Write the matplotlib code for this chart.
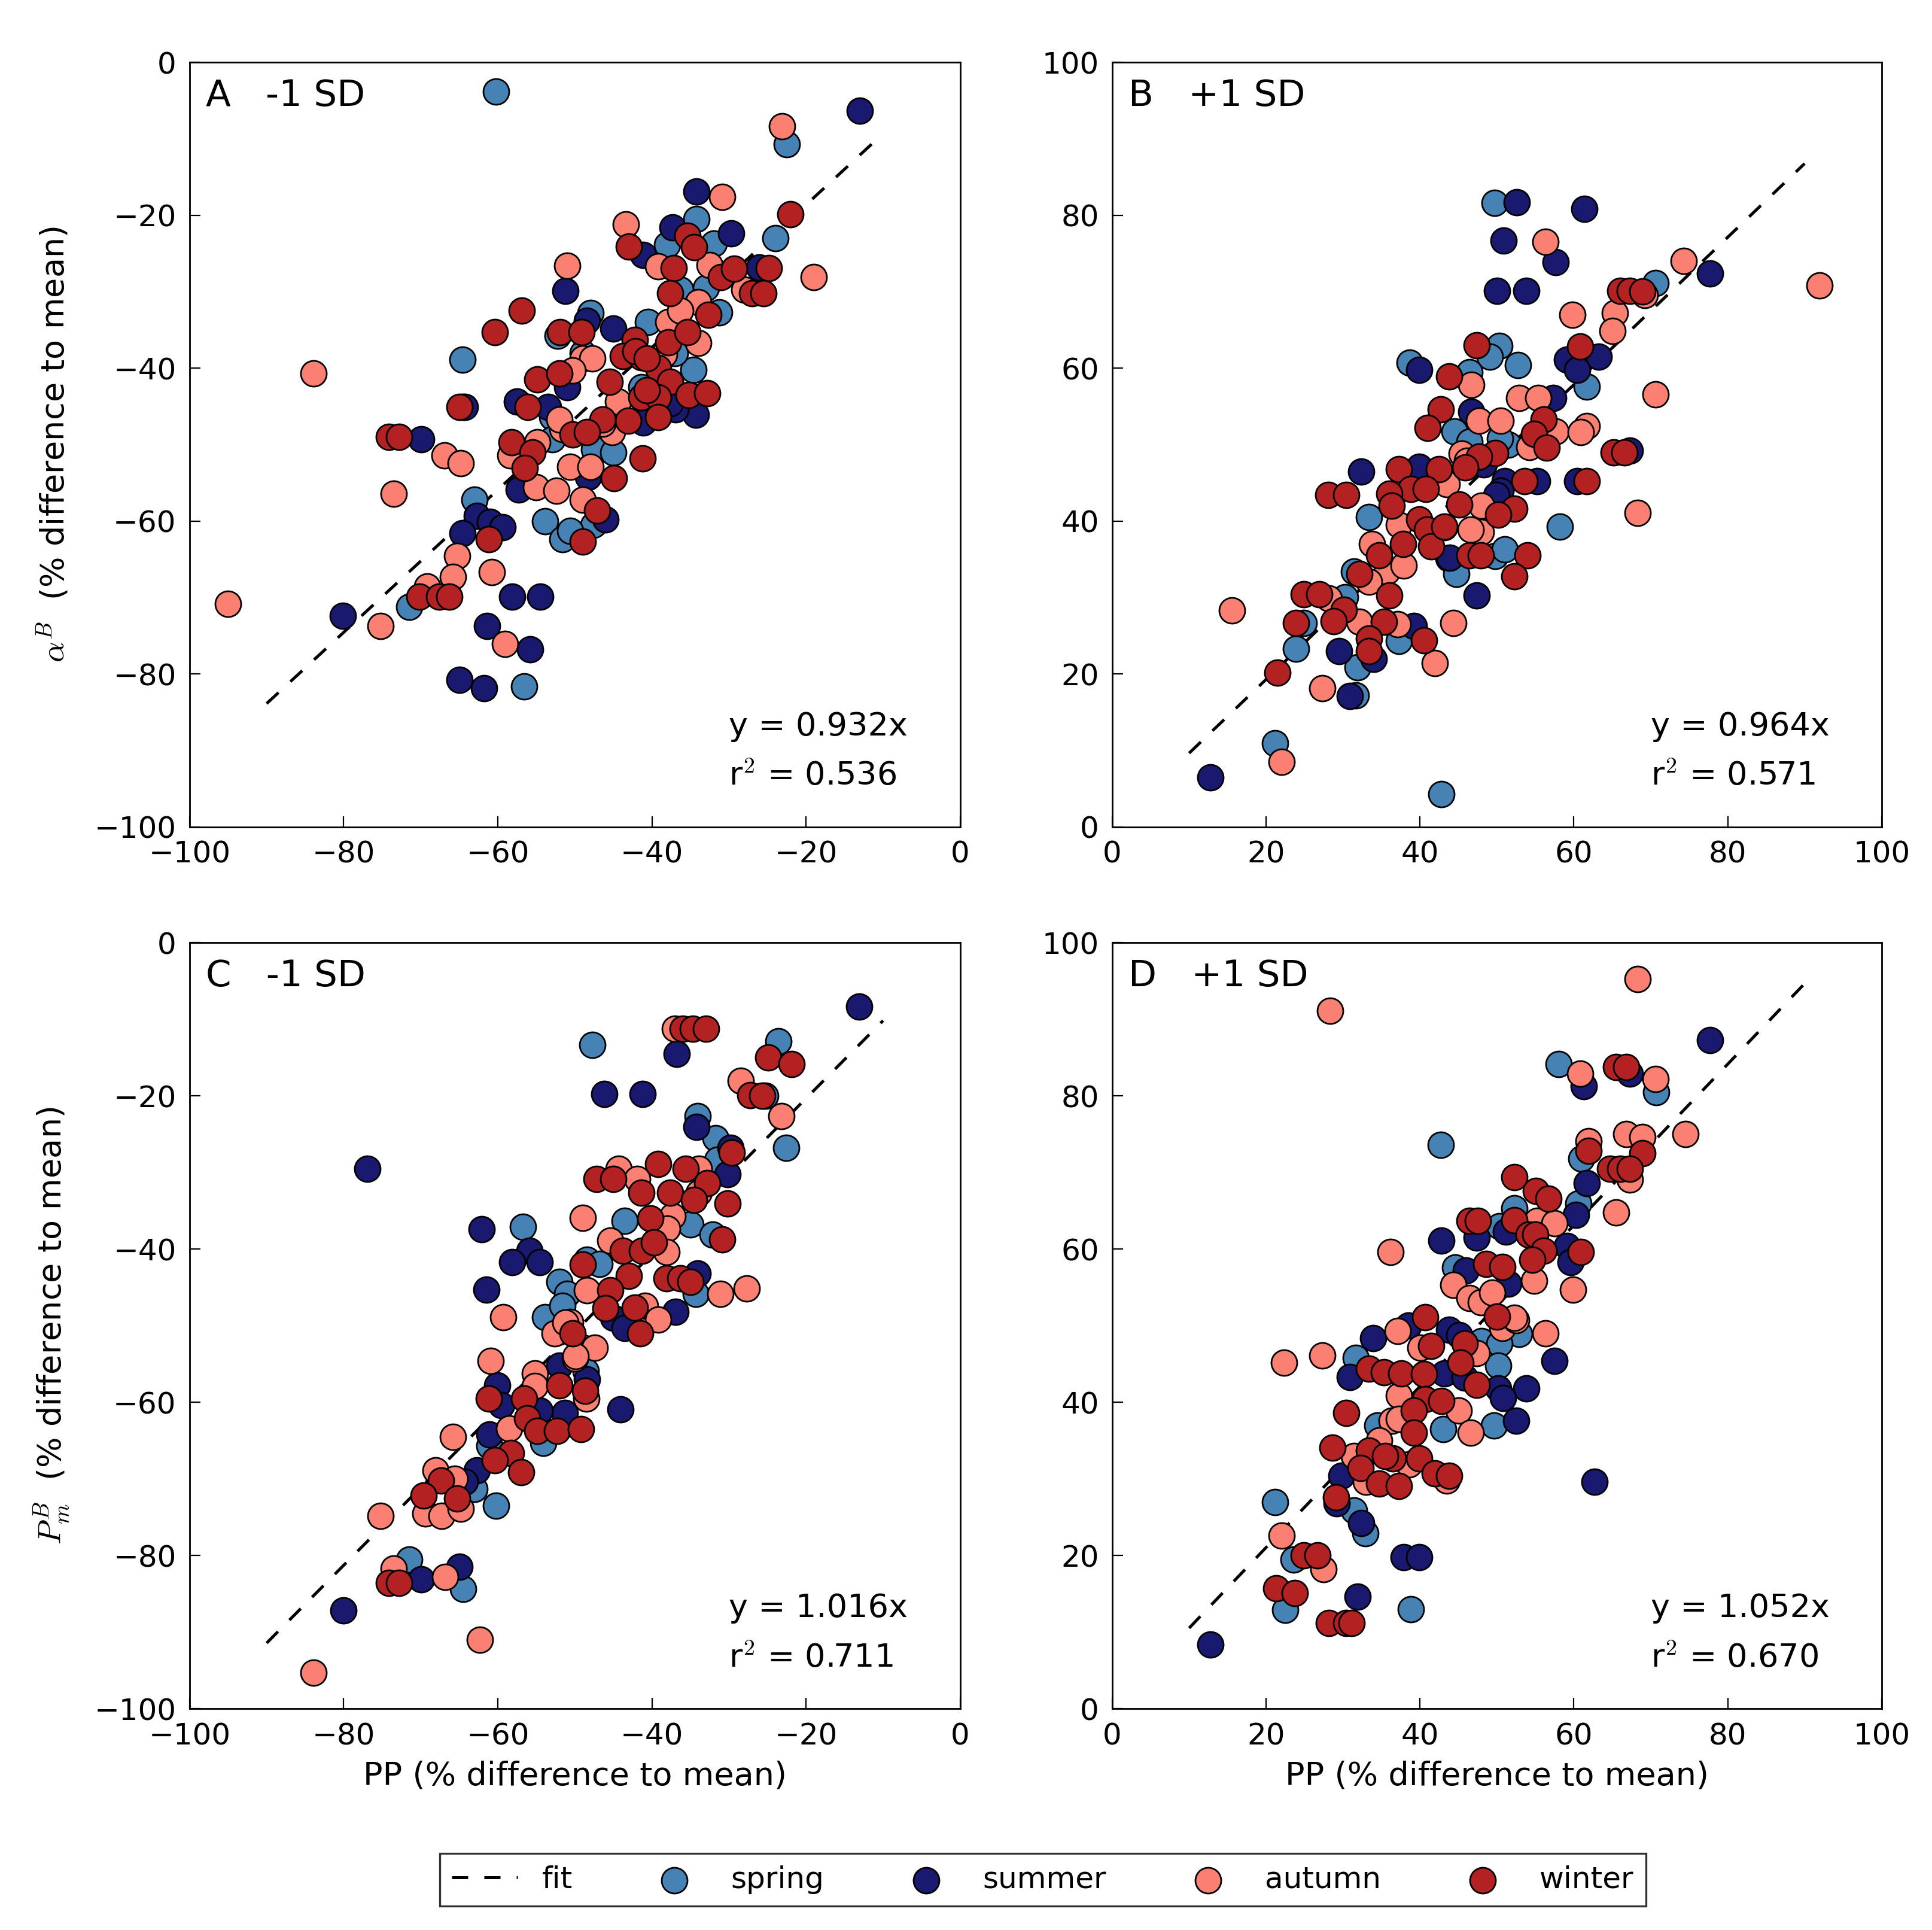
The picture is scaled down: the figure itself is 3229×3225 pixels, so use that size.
import matplotlib
matplotlib.use("Agg")
import matplotlib.pyplot as plt
import numpy as np

plt.rcParams['font.family'] = ['DejaVu Sans']
plt.rcParams['mathtext.fontset'] = 'cm'

seasons = ['spring', 'summer', 'autumn', 'winter']
colors = {'spring': '#4682b4', 'summer': '#191970', 'autumn': '#fa8072', 'winter': '#b22222'}

# ---------------- Panel A (alpha^B, -1 SD) ----------------
A_spring = [(-60.2,-3.8),(-22.5,-10.7),(-34.2,-20.5),(-24.0,-23.0),(-38.0,-23.9),(-32.0,-23.7),(-35.3,-30.7),
            (-31.3,-32.7),(-48.0,-32.8),(-40.5,-34.0),(-52.2,-35.8),(-64.6,-38.9),(-34.6,-40.2),(-41.4,-42.5),
            (-52.9,-46.4),(-64.5,-45.1),(-47.5,-50.6),(-45.0,-51.0),(-53.9,-60.0),(-47.6,-60.5),(-51.6,-62.4),
            (-50.6,-61.3),(-63.0,-57.2),(-71.5,-71.2),(-56.6,-81.6),(-37.0,-38.0),(-33.0,-29.5),(-49.0,-38.0),
            (-36.3,-29.7),(-52.9,-49.3)]
A_summer = [(-13.0,-6.3),(-34.2,-16.9),(-37.3,-21.6),(-29.7,-22.4),(-41.1,-25.2),(-26.1,-26.8),(-51.2,-29.9),
            (-48.4,-33.8),(-45.0,-34.8),(-51.0,-42.5),(-34.3,-46.1),(-41.1,-47.1),(-36.9,-45.4),(-57.5,-44.4),
            (-53.5,-45.1),(-64.3,-45.1),(-69.9,-49.3),(-57.3,-55.9),(-48.3,-54.2),(-46.0,-59.8),(-62.7,-59.3),
            (-61.0,-60.1),(-59.4,-60.8),(-64.6,-61.6),(-58.1,-69.9),(-54.5,-69.9),(-80.1,-72.4),(-61.4,-73.7),
            (-55.8,-76.8),(-65.0,-80.8),(-61.8,-81.9),(-37.6,-44.6)]
A_autumn = [(-23.1,-8.4),(-30.9,-17.6),(-43.4,-21.2),(-39.2,-26.7),(-32.5,-26.5),(-19.0,-28.1),(-28.0,-29.7),
            (-34.0,-31.4),(-51.0,-26.6),(-49.0,-38.7),(-47.7,-38.7),(-34.0,-36.7),(-37.9,-34.0),(-83.9,-40.7),
            (-44.4,-44.4),(-66.9,-51.4),(-64.8,-52.4),(-73.5,-56.4),(-51.6,-48.0),(-45.2,-48.4),(-58.4,-51.4),
            (-54.9,-49.7),(-55.0,-55.6),(-52.4,-56.0),(-50.6,-52.9),(-48.0,-52.9),(-49.0,-57.2),(-65.3,-64.6),
            (-65.8,-67.3),(-60.8,-66.7),(-69.2,-68.6),(-95.0,-70.8),(-75.2,-73.7),(-59.1,-76.1),
            (-36.3,-32.5),(-38.4,-38.2),(-50.3,-40.3),(-52.0,-46.7),(-46.4,-47.3)]
A_winter = [(-22.0,-19.9),(-43.0,-24.1),(-35.4,-22.7),(-34.5,-24.2),(-37.2,-26.9),(-31.0,-28.1),(-29.3,-27.0),
            (-24.8,-26.9),(-27.0,-30.2),(-25.5,-30.2),(-37.6,-30.2),(-32.7,-33.0),(-56.9,-32.5),(-60.4,-35.3),
            (-51.9,-35.3),(-49.1,-35.3),(-42.2,-36.3),(-43.8,-38.4),(-41.4,-38.6),(-37.9,-36.6),(-35.4,-35.3),
            (-54.9,-41.5),(-52.0,-40.7),(-45.5,-41.8),(-39.2,-40.0),(-37.6,-41.8),(-35.2,-43.5),(-32.8,-43.3),
            (-41.4,-43.8),(-39.2,-43.8),(-43.1,-46.9),(-39.2,-46.4),(-46.4,-46.7),(-56.1,-45.1),(-65.0,-45.1),
            (-74.1,-49.0),(-72.8,-49.0),(-50.3,-48.7),(-48.4,-48.4),(-41.2,-51.8),(-58.2,-49.7),(-55.5,-51.0),
            (-56.5,-53.1),(-44.9,-54.4),(-47.1,-58.6),(-49.0,-62.7),(-61.2,-62.4),(-70.2,-69.9),(-67.6,-69.9),
            (-66.3,-69.9),(-42.1,-37.8),(-40.7,-38.7),(-40.7,-42.9)]

# ---------------- Panel B (alpha^B, +1 SD) ----------------
B_spring = [(49.7,81.6),(70.6,71.1),(61.7,57.6),(38.7,60.7),(50.3,62.9),(49.1,61.5),(52.7,60.4),(46.4,59.5),
            (44.5,51.7),(46.4,50.4),(51.5,50.0),(58.2,39.3),(33.4,40.5),(43.7,35.1),(49.8,35.4),(51.0,36.3),
            (31.4,33.4),(44.7,33.1),(30.3,30.0),(24.9,26.7),(23.9,23.3),(31.9,20.9),(37.3,24.3),(31.7,17.2),
            (21.2,10.9),(42.8,4.3),(50.4,50.8)]
B_summer = [(52.6,81.7),(61.4,80.8),(50.9,76.7),(57.6,73.9),(50.0,70.1),(53.8,70.1),(77.7,72.4),(59.1,61.1),
            (63.2,61.5),(60.4,59.8),(39.9,59.8),(57.3,56.1),(46.7,54.3),(48.3,47.4),(39.9,47.1),(32.4,46.5),
            (51.0,45.2),(55.2,45.2),(60.4,45.2),(67.3,49.2),(50.5,44.0),(47.4,30.3),(39.2,26.3),(29.5,23.0),
            (34.0,22.0),(30.9,17.1),(12.8,6.5),(49.9,43.4),(43.9,35.2)]
B_autumn = [(56.3,76.5),(74.3,74.0),(91.9,70.8),(69.2,69.6),(65.3,67.2),(65.0,64.9),(59.8,67.0),(46.7,57.8),
            (70.6,56.6),(52.9,56.1),(55.4,56.1),(47.7,53.1),(50.5,53.1),(57.6,51.7),(61.7,52.4),(60.9,51.6),
            (54.2,49.7),(45.4,48.8),(46.1,47.9),(43.5,44.8),(68.3,41.1),(48.0,42.0),(37.3,39.5),(43.2,39.2),
            (47.9,38.6),(46.6,38.9),(33.8,37.0),(35.7,33.4),(37.9,34.2),(33.4,32.1),(28.2,29.9),(15.6,28.3),
            (32.1,26.8),(37.1,26.5),(44.3,26.7),(41.9,21.4),(27.3,18.1),(22.0,8.5)]
B_winter = [(66.0,70.1),(67.3,70.1),(68.9,70.0),(60.8,62.8),(47.4,63.0),(43.8,58.9),(42.7,54.6),(41.0,52.2),
            (56.1,53.3),(54.8,51.4),(56.5,49.6),(49.8,48.9),(47.7,48.4),(45.9,47.0),(42.5,46.8),(37.3,46.8),
            (28.1,43.4),(30.4,43.4),(38.8,44.2),(40.8,44.2),(36.0,43.6),(53.6,45.2),(61.7,45.2),(65.2,49.0),
            (66.6,49.0),(36.3,42.0),(45.1,42.2),(52.3,41.6),(50.2,40.8),(39.9,40.2),(40.9,38.9),(41.5,36.7),
            (37.8,37.0),(34.7,35.5),(46.4,35.5),(47.9,35.5),(54.0,35.5),(32.1,33.1),(52.3,32.8),(36.0,30.3),
            (24.9,30.4),(26.9,30.4),(23.9,26.7),(30.1,28.4),(28.8,26.9),(35.3,26.8),(33.4,24.6),(33.4,23.0),
            (40.5,24.4),(21.5,20.2),(43.2,39.3)]

# ---------------- Panel C (P_m^B, -1 SD) ----------------
C_spring = [(-47.7,-13.3),(-23.6,-12.9),(-25.3,-20.0),(-22.6,-26.8),(-34.1,-22.6),(-31.7,-25.5),(-31.5,-28.3),
            (-43.5,-36.3),(-35.0,-36.8),(-32.1,-38.1),(-56.7,-37.1),(-48.4,-41.4),(-46.8,-41.9),(-34.3,-45.8),
            (-52.0,-44.3),(-51.0,-45.8),(-53.9,-48.9),(-51.6,-47.4),(-48.6,-55.9),(-61.1,-65.7),(-54.1,-65.3),
            (-63.0,-71.3),(-60.2,-73.5),(-71.5,-80.5),(-64.5,-84.4)]
C_summer = [(-13.1,-8.3),(-36.8,-14.5),(-46.2,-19.7),(-41.2,-19.7),(-34.2,-24.0),(-29.8,-26.8),(-30.2,-30.2),
            (-76.9,-29.5),(-62.1,-37.4),(-55.9,-40.2),(-58.1,-41.7),(-54.6,-41.7),(-34.1,-43.2),(-61.5,-45.3),
            (-45.0,-49.0),(-43.5,-50.3),(-36.9,-48.2),(-52.0,-55.2),(-48.4,-57.0),(-60.1,-57.8),(-59.5,-60.4),
            (-51.3,-61.4),(-44.1,-60.9),(-54.6,-61.1),(-61.1,-64.2),(-62.7,-68.9),(-64.3,-70.4),(-69.9,-83.1),
            (-65.0,-81.5),(-80.0,-87.2)]
C_autumn = [(-37.0,-11.2),(-28.5,-18.0),(-23.2,-22.6),(-44.3,-29.5),(-33.9,-29.5),(-41.9,-30.8),(-33.9,-32.6),
            (-49.0,-35.9),(-37.3,-35.7),(-38.0,-37.3),(-45.4,-38.9),(-38.1,-40.4),(-31.1,-45.8),(-27.7,-45.1),
            (-59.3,-48.9),(-48.4,-45.4),(-40.9,-47.4),(-39.2,-49.2),(-50.6,-49.5),(-52.6,-51.0),(-49.0,-52.9),
            (-47.4,-52.9),(-50.0,-54.3),(-60.9,-54.6),(-55.2,-56.2),(-48.5,-59.5),(-55.2,-57.9),(-58.5,-63.4),
            (-65.8,-64.5),(-68.1,-68.9),(-65.6,-70.0),(-69.4,-74.5),(-67.3,-74.8),(-64.8,-73.9),(-75.2,-74.8),
            (-73.5,-81.7),(-66.8,-82.8),(-62.3,-91.0),(-83.9,-95.3),(-51.2,-49.6),(-49.9,-54.0)]
C_winter = [(-36.0,-11.2),(-34.7,-11.2),(-33.0,-11.2),(-24.9,-15.0),(-21.9,-15.8),(-27.2,-19.9),(-25.7,-20.0),
            (-29.6,-27.4),(-47.2,-30.8),(-45.0,-30.8),(-39.2,-28.9),(-35.6,-29.5),(-32.8,-31.4),(-41.4,-32.6),
            (-37.6,-32.6),(-34.5,-33.6),(-30.2,-34.0),(-40.2,-36.0),(-30.9,-38.7),(-43.8,-40.2),(-41.3,-40.2),
            (-49.0,-42.0),(-43.0,-43.5),(-38.1,-43.8),(-36.3,-43.8),(-35.0,-44.3),(-45.4,-45.4),(-46.0,-47.7),
            (-42.2,-47.6),(-41.5,-51.0),(-50.3,-51.0),(-61.2,-59.5),(-52.0,-57.8),(-48.7,-58.5),(-56.6,-59.5),
            (-56.2,-62.1),(-54.9,-63.7),(-52.3,-63.7),(-49.2,-63.5),(-58.3,-66.6),(-60.4,-67.6),(-57.0,-69.1),
            (-67.4,-70.2),(-69.6,-72.2),(-65.3,-72.6),(-74.1,-83.6),(-72.8,-83.6),(-39.7,-39.1)]

# ---------------- Panel D (P_m^B, +1 SD) ----------------
D_spring = [(58.0,84.2),(70.7,80.5),(61.0,71.8),(42.7,73.6),(60.6,66.0),(52.3,65.3),(50.3,63.0),(44.6,57.6),
            (52.9,48.9),(48.0,48.0),(50.3,47.7),(31.7,45.8),(50.2,44.8),(43.0,36.5),(49.6,37.0),(34.5,37.0),
            (31.4,25.9),(32.9,22.9),(21.2,27.0),(23.6,19.5),(22.5,12.9),(38.8,13.0)]
D_summer = [(77.7,87.3),(61.3,81.3),(67.3,82.9),(61.7,68.6),(60.3,64.5),(47.4,61.5),(42.8,61.1),(51.2,62.3),
            (59.1,60.4),(59.6,58.3),(46.0,57.2),(51.5,55.5),(57.5,45.4),(38.5,50.0),(33.9,48.4),(43.8,49.5),
            (45.1,48.8),(30.9,43.3),(43.2,43.8),(45.8,43.2),(50.2,41.8),(53.8,41.8),(52.5,37.6),(29.8,30.4),
            (29.2,26.8),(32.4,24.2),(62.7,29.6),(37.9,19.8),(39.9,19.8),(31.9,14.6),(12.8,8.4),(50.8,40.6)]
D_autumn = [(68.3,95.3),(28.3,91.1),(60.8,82.9),(70.6,82.2),(74.5,75.0),(66.8,75.0),(68.9,74.6),(61.9,74.1),
            (67.3,69.1),(65.5,64.8),(36.2,59.6),(55.2,63.7),(57.5,63.4),(54.8,55.9),(59.9,54.7),(44.3,55.3),
            (46.4,53.6),(47.9,53.1),(49.4,54.3),(50.7,49.7),(52.5,50.7),(56.3,49.0),(37.1,49.3),(40.1,47.1),
            (47.4,46.4),(22.3,45.2),(27.3,46.1),(37.3,40.9),(45.0,38.9),(46.6,36.0),(36.3,37.6),(34.7,35.0),
            (31.4,33.0),(33.0,29.6),(43.5,29.8),(38.6,31.9),(22.0,22.6),(27.5,18.2),(52.3,51.0),(37.3,37.8)]
D_winter = [(65.5,83.8),(66.8,83.8),(68.9,72.5),(61.9,72.8),(64.7,70.5),(66.0,70.5),(67.3,70.5),(52.3,69.4),
            (55.1,67.6),(56.7,66.6),(46.4,63.7),(47.5,63.7),(52.3,63.8),(54.1,61.9),(55.0,61.9),(56.1,59.8),
            (54.6,58.6),(60.9,59.6),(48.6,58.1),(50.7,57.7),(50.0,51.2),(40.7,51.1),(45.8,47.7),(41.5,47.4),
            (45.3,45.2),(33.4,44.4),(35.3,43.9),(37.6,43.8),(40.5,43.7),(47.4,42.3),(40.7,40.4),(42.8,40.2),
            (39.2,38.9),(30.4,38.6),(39.2,36.0),(28.6,34.1),(33.4,33.7),(32.3,31.4),(34.7,29.4),(36.5,32.7),
            (37.3,29.1),(39.9,32.7),(41.9,30.7),(43.8,30.4),(29.1,27.6),(24.9,20.0),(26.7,20.0),(21.3,15.7),
            (23.7,15.1),(28.2,11.2),(30.4,11.2),(31.1,11.2),(35.5,33.0)]

slopes = {'A': 0.932, 'B': 0.964, 'C': 1.016, 'D': 1.052}
r2 = {'A': 0.536, 'B': 0.571, 'C': 0.711, 'D': 0.670}
titles = {'A': 'A   -1 SD', 'B': 'B   +1 SD', 'C': 'C   -1 SD', 'D': 'D   +1 SD'}
fit_x = {'A': [-90, -10], 'B': [10, 90], 'C': [-90, -10], 'D': [10, 90]}
lims = {'A': (-100, 0), 'B': (0, 100), 'C': (-100, 0), 'D': (0, 100)}
data = {
    'A': [A_spring, A_summer, A_autumn, A_winter],
    'B': [B_spring, B_summer, B_autumn, B_winter],
    'C': [C_spring, C_summer, C_autumn, C_winter],
    'D': [D_spring, D_summer, D_autumn, D_winter],
}

fig = plt.figure(figsize=(16.15, 16.125), dpi=200)
pos = {
    'A': [0.0981, 0.5716, 0.3987, 0.3961],
    'B': [0.5755, 0.5716, 0.3981, 0.3961],
    'C': [0.0981, 0.1147, 0.3987, 0.3968],
    'D': [0.5755, 0.1147, 0.3981, 0.3968],
}

TICK_FS = 18
LAB_FS = 19.5
handles = {}
for key in ['A', 'B', 'C', 'D']:
    ax = fig.add_axes(pos[key])
    lo, hi = lims[key]
    fx = np.array(fit_x[key], dtype=float)
    ln, = ax.plot(fx, slopes[key] * fx, color='black', lw=1.8, linestyle=(0, (5.4, 5.4)), zorder=1, label='fit')
    handles['fit'] = ln
    for s, pts in zip(seasons, data[key]):
        arr = np.array(pts)
        sc = ax.scatter(arr[:, 0], arr[:, 1], s=240, c=colors[s], edgecolors='black', linewidths=1.0,
                        zorder=2, label=s)
        handles[s] = sc
    ax.set_xlim(lo, hi)
    ax.set_ylim(lo, hi)
    ticks = np.arange(lo, hi + 1, 20)
    ax.set_xticks(ticks)
    ax.set_yticks(ticks)
    ax.tick_params(direction='in', length=6.6, width=0.8, labelsize=TICK_FS, pad=8,
                   top=False, right=False)
    for sp in ax.spines.values():
        sp.set_linewidth(1.0)
    ax.text(0.021, 0.956, titles[key], transform=ax.transAxes, fontsize=22, ha='left', va='center')
    ax.text(0.70, 0.131, 'y = %.3fx' % slopes[key], transform=ax.transAxes, fontsize=LAB_FS,
            ha='left', va='center')
    ax.text(0.70, 0.066, 'r$^2$ = %.3f' % r2[key], transform=ax.transAxes, fontsize=LAB_FS,
            ha='left', va='center')
    if key == 'A':
        ax.set_ylabel(r'$\alpha^B$  (% difference to mean)', fontsize=LAB_FS, labelpad=14)
    if key == 'C':
        ax.set_ylabel(r'$P_m^B$  (% difference to mean)', fontsize=LAB_FS, labelpad=14)
    if key in ('C', 'D'):
        ax.set_xlabel('PP (% difference to mean)', fontsize=LAB_FS, labelpad=6)

leg = fig.legend([handles['fit'], handles['spring'], handles['summer'], handles['autumn'], handles['winter']],
                 ['fit', 'spring', 'summer', 'autumn', 'winter'],
                 loc='center', bbox_to_anchor=(0.2277, 0.0029, 0.6239, 0.0465), mode='expand',
                 ncol=5, fontsize=TICK_FS, scatterpoints=1, fancybox=False, frameon=True,
                 handlelength=2.2, borderaxespad=0)
leg.get_frame().set_edgecolor('black')
leg.get_frame().set_linewidth(1.2)

fig.savefig('out.png', dpi=200, facecolor='white')
